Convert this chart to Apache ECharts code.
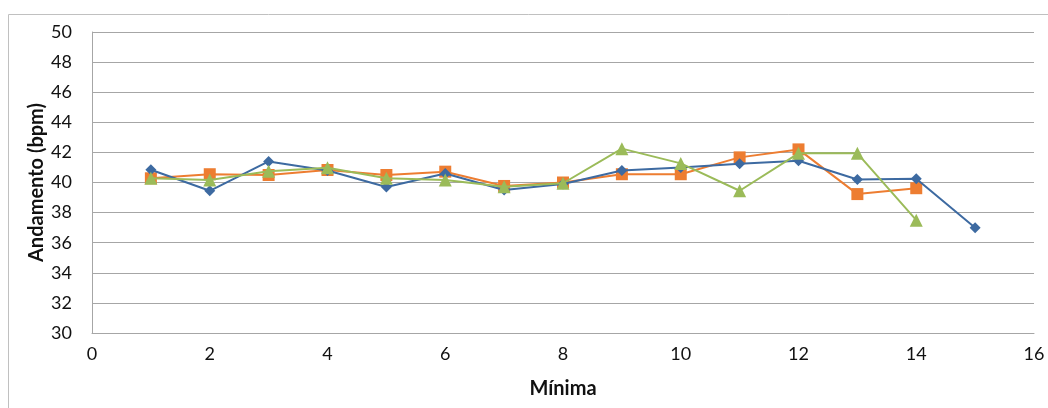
<!DOCTYPE html>
<html><head><meta charset="utf-8">
<script src="https://cdn.jsdelivr.net/npm/echarts@6/dist/echarts.min.js"></script>
<style>html,body{margin:0;padding:0;background:#fff}#c{width:1048px;height:408px}</style>
</head><body><div id="c"></div>
<script>
const minutes = [1,2,3,4,5,6,7,8,9,10,11,12,13,14,15];
const serieA = [40.85,39.45,41.4,40.8,39.7,40.6,39.5,39.9,40.8,41.0,41.25,41.45,40.2,40.25,37.0];
const serieB = [40.28,40.55,40.5,40.83,40.5,40.72,39.77,40.0,40.55,40.55,41.67,42.2,39.23,39.62];
const serieC = [40.28,40.17,40.75,40.98,40.28,40.17,39.72,39.95,42.25,41.27,39.45,41.94,41.94,37.5];
const yTicks = [30,32,34,36,38,40,42,44,46,48,50];
const xTicks = [0,2,4,6,8,10,12,14,16];

const pair = (vals) => vals.map((v,i)=>[minutes[i], v]);
const font = 'Lato, "Noto Sans", sans-serif';
const chart = echarts.init(document.getElementById('c'));
chart.setOption({
  animation:false,
  graphic:[{type:'rect',shape:{x:8.5,y:14.5,width:1100,height:500},style:{fill:'none',stroke:'#c0c0c0',lineWidth:1},silent:true}],
  grid:{left:92,right:14,top:32,bottom:75},
  xAxis:{type:'value',min:xTicks[0],max:xTicks[xTicks.length-1],interval:2,
    name:'Mínima',nameLocation:'middle',nameGap:46,nameMoveOverlap:false,
    nameTextStyle:{fontFamily:font,fontSize:20,fontWeight:'bold',color:'#111'},
    axisLine:{show:true,lineStyle:{color:'#a6a6a6',width:1}},
    axisTick:{show:false},splitLine:{show:false},
    axisLabel:{fontFamily:font,fontSize:18,color:'#111',margin:12}},
  yAxis:{type:'value',min:yTicks[0],max:yTicks[yTicks.length-1],interval:2,
    name:'Andamento (bpm)',nameLocation:'middle',nameGap:45,nameMoveOverlap:false,
    nameTextStyle:{fontFamily:font,fontSize:20,fontWeight:'bold',color:'#111'},
    axisLine:{show:true,lineStyle:{color:'#a6a6a6',width:1}},
    axisTick:{show:false},
    splitLine:{show:true,lineStyle:{color:'#a6a6a6',width:1}},
    axisLabel:{fontFamily:font,fontSize:18,color:'#111',margin:20}},
  series:[
    {type:'line',data:pair(serieA),symbol:'diamond',symbolSize:11,
     lineStyle:{color:'#3d6aa1',width:2},itemStyle:{color:'#3d6aa1'},z:3},
    {type:'line',data:pair(serieB),symbol:'rect',symbolSize:12,
     lineStyle:{color:'#ed7d31',width:2},itemStyle:{color:'#ed7d31'},z:2},
    {type:'line',data:pair(serieC),symbol:'triangle',symbolSize:13,
     lineStyle:{color:'#9bbb59',width:2},itemStyle:{color:'#9bbb59'},z:4}
  ]
});
</script></body></html>
